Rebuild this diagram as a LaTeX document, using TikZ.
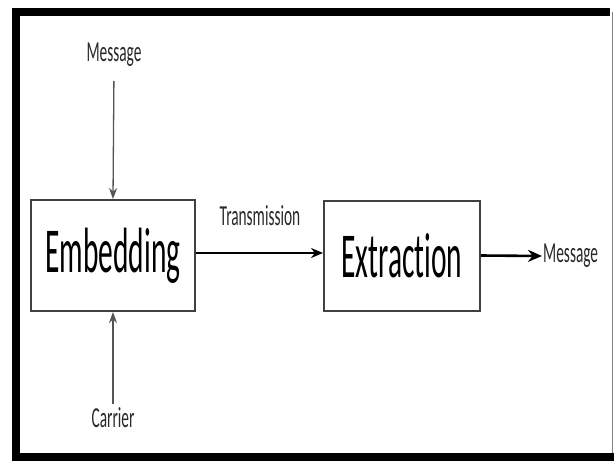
\documentclass[tikz,border=0pt]{standalone}
\usepackage{fontspec}
\usetikzlibrary{arrows.meta}
\newfontfamily\bigfnt[FakeStretch=0.46,Ligatures={NoCommon}]{Carlito}
\newfontfamily\smallfnt[FakeStretch=0.53,Ligatures={NoCommon}]{Carlito}
\definecolor{boxgray}{HTML}{404040}
\definecolor{txtgray}{HTML}{2A2A2A}
\definecolor{thingray}{HTML}{555555}
\begin{document}
\begin{tikzpicture}[x=1pt,y=-1pt,
  blockbox/.style={draw=boxgray,line width=2pt,fill=white,inner sep=0pt,
    font=\bigfnt\fontsize{64}{64}\selectfont,text=black},
  lbl/.style={inner sep=1pt,font=\smallfnt\fontsize{29}{29}\selectfont,text=txtgray},
  thinarrow/.style={draw=thingray,line width=1.3pt,-{Stealth[length=11pt,width=8pt]}},
  thickarrow/.style={draw=black,line width=2pt,-{Stealth[length=12pt,width=10pt]}},
  boldarrow/.style={draw=black,line width=2.6pt,-{Stealth[length=14pt,width=12pt]}}]
\useasboundingbox (0,0) rectangle (614,461);
\fill[white] (0,0) rectangle (614,461);
% frame
\draw[line width=8pt,black] (16,457) -- (16,12) -- (610,12);
\draw[line width=8pt,black] (12,457) -- (614,457);
\draw[line width=1pt,gray] (612.5,12) -- (612.5,453);
% blocks
\node[blockbox,minimum width=164pt,minimum height=111pt] (emb) at (113,255.5) {Embedding};
\node[blockbox,minimum width=156pt,minimum height=110pt] (ext) at (402,255.5) {Extraction};
% labels
\node[lbl] (msgin) at (114,55) {Message};
\node[lbl] (car) at (113,418) {Carrier};
\node[lbl] (trans) at (260,216) {Transmission};
\node[lbl,anchor=west] (msgout) at (542,256) {Message};
% connectors
\draw[thinarrow,shorten <=13pt] (msgin.south) -- (emb.north);
\draw[thinarrow,shorten <=3pt] (car.north) -- (emb.south);
\draw[thickarrow] ([yshift=2.5pt]emb.east) -- ([yshift=2.5pt]ext.west);
\draw[boldarrow] (ext.east) -- (msgout.west);
\end{tikzpicture}
\end{document}
